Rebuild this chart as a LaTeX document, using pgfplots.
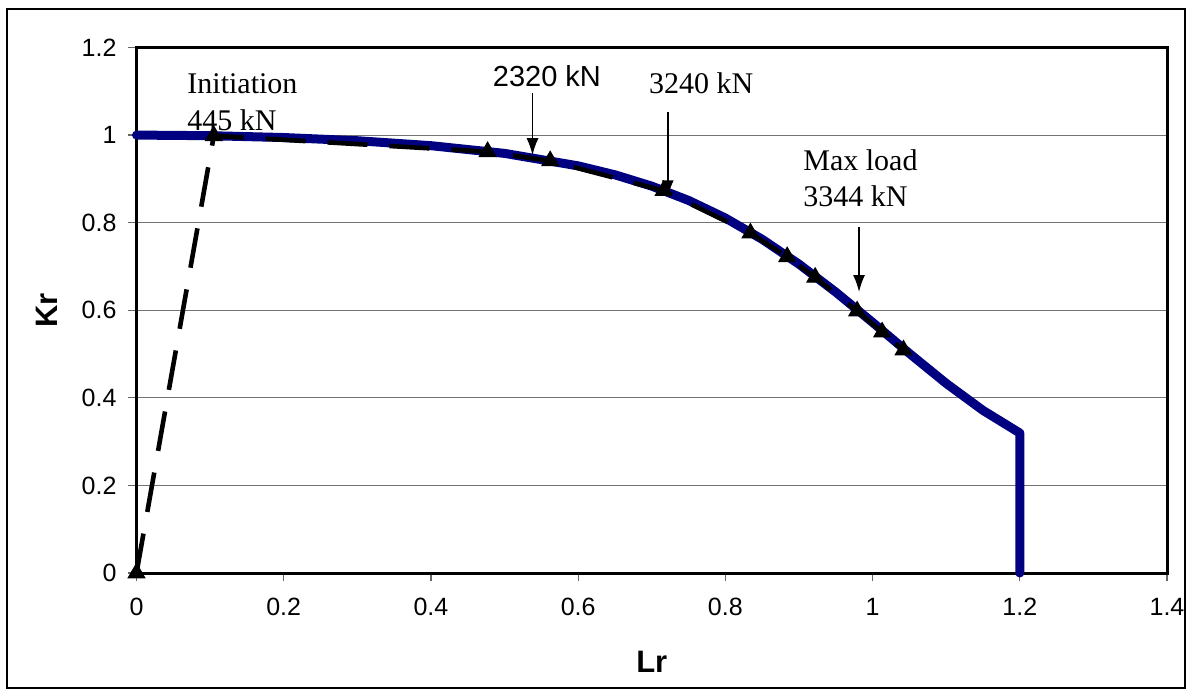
\documentclass[border=0pt]{standalone}
\usepackage{pgfplots}
\pgfplotsset{compat=1.18}
\usepackage{fontspec}
\setmainfont{Liberation Sans}
\newfontfamily\tnr{Liberation Serif}
\usetikzlibrary{arrows.meta}
\definecolor{navy}{RGB}{0,0,128}

\pgfplotstableread{
L K
0 1
0.1 0.9986
0.2 0.9944
0.3 0.9871
0.4 0.9758
0.5 0.9582
0.6 0.9297
0.65 0.9093
0.7 0.8834
0.75 0.8508
0.8 0.8106
0.85 0.7620
0.9 0.7053
0.95 0.6414
1.0 0.5723
1.05 0.5014
1.1 0.4330
1.15 0.3713
1.2 0.3197
1.2 0
}\fadcurve

\pgfplotstableread{
L K
0 0
0.105 0.9985
0.477 0.962
0.562 0.941
0.716 0.873
0.834 0.776
0.884 0.722
0.922 0.675
0.979 0.598
1.013 0.550
1.042 0.509
}\assess

\begin{document}
\begin{tikzpicture}
\useasboundingbox (0pt,0pt) rectangle (596pt,348pt);
\draw[line width=0.7pt] (3.5pt,4pt) rectangle (592.5pt,343.5pt);
\begin{axis}[
  at={(68.25pt,61.5pt)}, anchor=south west,
  scale only axis, width=515.25pt, height=262.75pt,
  xmin=0, xmax=1.4, ymin=0, ymax=1.2,
  xtick={0,0.2,0.4,0.6,0.8,1,1.2,1.4},
  xticklabels={0,0.2,0.4,0.6,0.8,1,1.2,1.4},
  ytick={0,0.2,0.4,0.6,0.8,1,1.2},
  yticklabels={0,0.2,0.4,0.6,0.8,1,1.2},
  tick pos=left, tick align=outside, major tick length=4pt,
  tick style={black!60, line width=0.6pt},
  ymajorgrids, grid style={black!55, line width=0.5pt},
  axis line style={line width=1.5pt},
  ticklabel style={font=\fontsize{12.5}{15}\selectfont},
  yticklabel style={xshift=-2.5pt},
  xticklabel style={yshift=-5pt},
  xlabel={Lr}, ylabel={Kr},
  label style={font=\fontsize{15.5}{18}\selectfont\bfseries},
  xlabel style={at={(axis description cs:0.5,-0.1884)}, anchor=base},
  ylabel style={at={(axis description cs:-0.0871,0.5)}, anchor=center},
  clip=false,
]
\node[anchor=base west, inner sep=0pt, font=\tnr\fontsize{15}{18}\selectfont] at (axis cs:0.0687,1.096) {Initiation};
\node[anchor=base west, inner sep=0pt, font=\tnr\fontsize{15}{18}\selectfont] at (axis cs:0.0687,1.011) {445 kN};
\node[anchor=base west, inner sep=0pt, font=\fontsize{14.5}{17}\selectfont] at (axis cs:0.4837,1.110) {2320 kN};
\node[anchor=base west, inner sep=0pt, font=\tnr\fontsize{15}{18}\selectfont] at (axis cs:0.696,1.094) {3240 kN};
\node[anchor=base west, inner sep=0pt, font=\tnr\fontsize{15}{18}\selectfont] at (axis cs:0.9054,0.920) {Max load};
\node[anchor=base west, inner sep=0pt, font=\tnr\fontsize{15}{18}\selectfont] at (axis cs:0.9054,0.836) {3344 kN};

\addplot[color=navy, line width=4.5pt, line join=round, line cap=round] table[x=L,y=K] {\fadcurve};
\addplot[color=black, line width=2.3pt, dash pattern=on 20pt off 11pt,
  mark=triangle*, mark size=4.8pt, mark options={solid, fill=black, line width=0.5pt}] table[x=L,y=K] {\assess};

\draw[-{Latex[length=8.5pt,width=6pt]}, line width=0.8pt] (axis cs:0.538,1.096) -- (axis cs:0.538,0.954);
\draw[-{Latex[length=8.5pt,width=6pt]}, line width=0.8pt] (axis cs:0.7218,1.0525) -- (axis cs:0.7218,0.858);
\draw[-{Latex[length=8.5pt,width=6pt]}, line width=0.8pt] (axis cs:0.9816,0.790) -- (axis cs:0.9816,0.6416);
\end{axis}
\end{tikzpicture}
\end{document}
